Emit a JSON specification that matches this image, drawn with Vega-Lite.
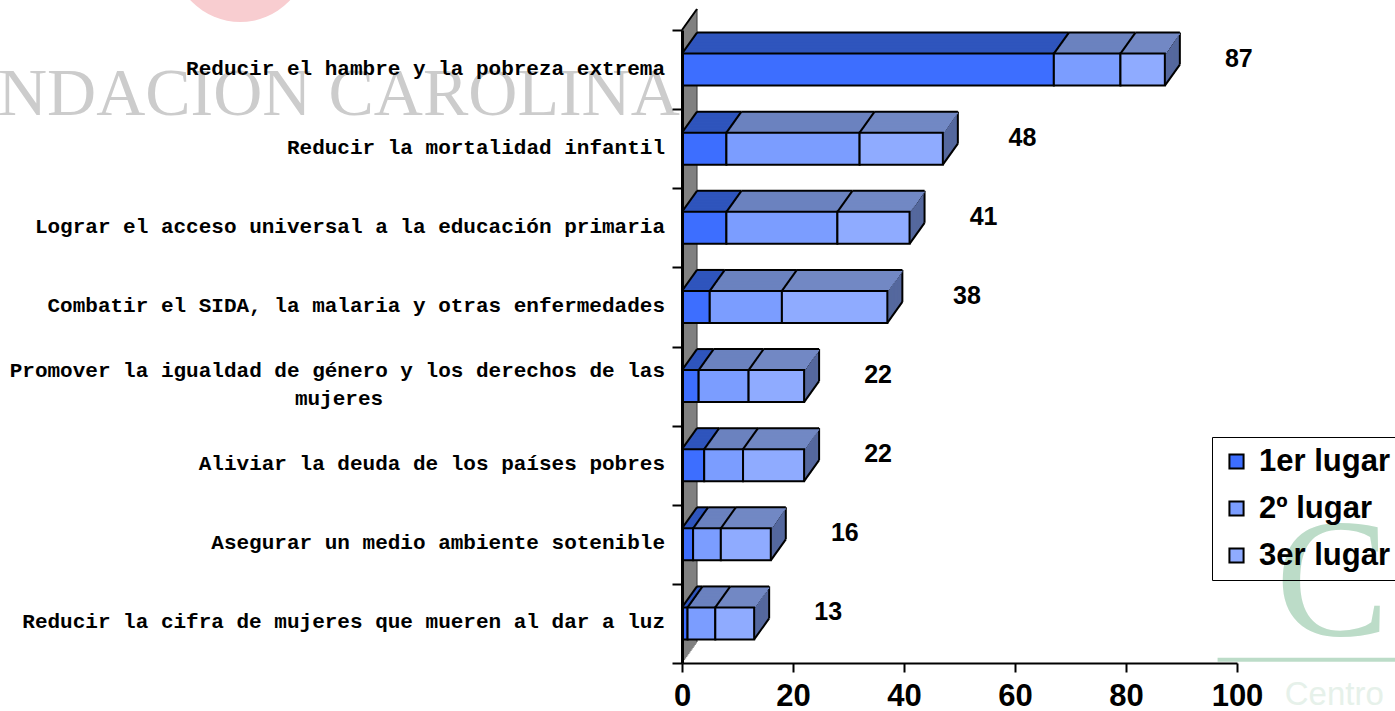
{"$schema":"https://vega.github.io/schema/vega-lite/v6.json","autosize":{"type":"none"},"padding":{"left":682,"top":30,"right":158,"bottom":48},"width":555,"height":633,"background":"white","config":{"view":{"stroke":null},"font":"Liberation Sans"},
"datasets":{
"barras":[
{"rank":1,"lugar":"1er lugar","orden":1,"valor":67},{"rank":1,"lugar":"2º lugar","orden":2,"valor":12},{"rank":1,"lugar":"3er lugar","orden":3,"valor":8},
{"rank":2,"lugar":"1er lugar","orden":1,"valor":8},{"rank":2,"lugar":"2º lugar","orden":2,"valor":24},{"rank":2,"lugar":"3er lugar","orden":3,"valor":15},
{"rank":3,"lugar":"1er lugar","orden":1,"valor":8},{"rank":3,"lugar":"2º lugar","orden":2,"valor":20},{"rank":3,"lugar":"3er lugar","orden":3,"valor":13},
{"rank":4,"lugar":"1er lugar","orden":1,"valor":5},{"rank":4,"lugar":"2º lugar","orden":2,"valor":13},{"rank":4,"lugar":"3er lugar","orden":3,"valor":19},
{"rank":5,"lugar":"1er lugar","orden":1,"valor":3},{"rank":5,"lugar":"2º lugar","orden":2,"valor":9},{"rank":5,"lugar":"3er lugar","orden":3,"valor":10},
{"rank":6,"lugar":"1er lugar","orden":1,"valor":4},{"rank":6,"lugar":"2º lugar","orden":2,"valor":7},{"rank":6,"lugar":"3er lugar","orden":3,"valor":11},
{"rank":7,"lugar":"1er lugar","orden":1,"valor":2},{"rank":7,"lugar":"2º lugar","orden":2,"valor":5},{"rank":7,"lugar":"3er lugar","orden":3,"valor":9},
{"rank":8,"lugar":"1er lugar","orden":1,"valor":1},{"rank":8,"lugar":"2º lugar","orden":2,"valor":5},{"rank":8,"lugar":"3er lugar","orden":3,"valor":7}],
"categorias":[
{"rank":1,"nombre":"Reducir el hambre y la pobreza extrema","total":87},
{"rank":2,"nombre":"Reducir la mortalidad infantil","total":48},
{"rank":3,"nombre":"Lograr el acceso universal a la educación primaria","total":41},
{"rank":4,"nombre":"Combatir el SIDA, la malaria y otras enfermedades","total":38},
{"rank":5,"nombre":"Promover la igualdad de género y los derechos de las","nombre2":"mujeres","total":22},
{"rank":6,"nombre":"Aliviar la deuda de los países pobres","total":22},
{"rank":7,"nombre":"Asegurar un medio ambiente sotenible","total":16},
{"rank":8,"nombre":"Reducir la cifra de mujeres que mueren al dar a luz","total":13}],
"una":[{"clave":1}]},
"layer":[
{"data":{"name":"una"},"layer":[
{"mark":{"type":"point","filled":true,"opacity":1,"color":"#f8cdd0","size":18496,"clip":false},"encoding":{"x":{"datum":-79.6,"scale":{"domain":[0,100],"nice":false}},"y":{"datum":-0.46,"scale":{"domain":[0.5,8.5],"reverse":true,"nice":false,"zero":false}}}},
{"mark":{"type":"text","text":"NDACION CAROLINA","align":"right","baseline":"alphabetic","font":"Liberation Serif","fontSize":68,"color":"#cccccc"},"encoding":{"x":{"datum":-0.4,"scale":{"domain":[0,100],"nice":false}},"y":{"datum":1.57,"scale":{"domain":[0.5,8.5],"reverse":true,"nice":false,"zero":false}}}},
{"mark":{"type":"text","text":"C","align":"left","baseline":"alphabetic","font":"Liberation Serif","fontSize":170,"color":"#bcdcc8"},"encoding":{"x":{"datum":107,"scale":{"domain":[0,100],"nice":false}},"y":{"datum":8.15,"scale":{"domain":[0.5,8.5],"reverse":true,"nice":false,"zero":false}}}},
{"mark":{"type":"text","text":"Centro","align":"left","baseline":"alphabetic","fontSize":33,"color":"#e6f1ea"},"encoding":{"x":{"datum":108.6,"scale":{"domain":[0,100],"nice":false}},"y":{"datum":9.03,"scale":{"domain":[0.5,8.5],"reverse":true,"nice":false,"zero":false}}}},
{"mark":{"type":"rule","color":"#bcdcc8","strokeWidth":4},"encoding":{"x":{"datum":96.5,"scale":{"domain":[0,100],"nice":false}},"x2":{"datum":130},"y":{"datum":8.46,"scale":{"domain":[0.5,8.5],"reverse":true,"nice":false,"zero":false}}}},
{"encoding":{"x":{"datum":0,"scale":{"domain":[0,100],"nice":false}},"y":{"datum":0.5,"scale":{"domain":[0.5,8.5],"reverse":true,"nice":false,"zero":false}},"y2":{"datum":8.5}},"layer":[
{"mark":{"type":"rule","color":"#808080","strokeWidth":2,"xOffset":1.07,"yOffset":-1.5,"y2Offset":-1.5}},
{"mark":{"type":"rule","color":"#808080","strokeWidth":2,"xOffset":2.14,"yOffset":-3,"y2Offset":-3}},
{"mark":{"type":"rule","color":"#808080","strokeWidth":2,"xOffset":3.21,"yOffset":-4.5,"y2Offset":-4.5}},
{"mark":{"type":"rule","color":"#808080","strokeWidth":2,"xOffset":4.29,"yOffset":-6,"y2Offset":-6}},
{"mark":{"type":"rule","color":"#808080","strokeWidth":2,"xOffset":5.36,"yOffset":-7.5,"y2Offset":-7.5}},
{"mark":{"type":"rule","color":"#808080","strokeWidth":2,"xOffset":6.43,"yOffset":-9,"y2Offset":-9}},
{"mark":{"type":"rule","color":"#808080","strokeWidth":2,"xOffset":7.5,"yOffset":-10.5,"y2Offset":-10.5}},
{"mark":{"type":"rule","color":"#808080","strokeWidth":2,"xOffset":8.57,"yOffset":-12,"y2Offset":-12}},
{"mark":{"type":"rule","color":"#808080","strokeWidth":2,"xOffset":9.64,"yOffset":-13.5,"y2Offset":-13.5}},
{"mark":{"type":"rule","color":"#808080","strokeWidth":2,"xOffset":10.71,"yOffset":-15,"y2Offset":-15}},
{"mark":{"type":"rule","color":"#808080","strokeWidth":2,"xOffset":11.79,"yOffset":-16.5,"y2Offset":-16.5}},
{"mark":{"type":"rule","color":"#808080","strokeWidth":2,"xOffset":12.86,"yOffset":-18,"y2Offset":-18}},
{"mark":{"type":"rule","color":"#808080","strokeWidth":2,"xOffset":13.93,"yOffset":-19.5,"y2Offset":-19.5}},
{"mark":{"type":"rule","color":"#333333","strokeWidth":1,"xOffset":15,"yOffset":-21,"y2Offset":-21}}
]},
{"mark":{"type":"rule","color":"black","strokeWidth":2,"x2Offset":15,"y2Offset":-21},"encoding":{"x":{"datum":0,"scale":{"domain":[0,100],"nice":false}},"x2":{"datum":0},"y":{"datum":0.5,"scale":{"domain":[0.5,8.5],"reverse":true,"nice":false,"zero":false}},"y2":{"datum":0.5}}}
]},
{"data":{"name":"barras"},"transform":[{"stack":"valor","groupby":["rank"],"sort":[{"field":"orden","order":"ascending"}],"as":["x0","x1"]}],"layer":[
{"encoding":{"x":{"field":"x1","type":"quantitative","scale":{"domain":[0,100],"nice":false}},"y":{"field":"rank","type":"quantitative","scale":{"domain":[0.5,8.5],"reverse":true,"nice":false,"zero":false}},"y2":{"field":"rank"}},"transform":[{"filter":"datum.orden==3"}],"layer":[
{"mark":{"type":"rule","color":"#55689e","strokeWidth":2,"xOffset":1.07,"yOffset":-17.5,"y2Offset":14.5}},
{"mark":{"type":"rule","color":"#55689e","strokeWidth":2,"xOffset":2.14,"yOffset":-19,"y2Offset":13}},
{"mark":{"type":"rule","color":"#55689e","strokeWidth":2,"xOffset":3.21,"yOffset":-20.5,"y2Offset":11.5}},
{"mark":{"type":"rule","color":"#55689e","strokeWidth":2,"xOffset":4.29,"yOffset":-22,"y2Offset":10}},
{"mark":{"type":"rule","color":"#55689e","strokeWidth":2,"xOffset":5.36,"yOffset":-23.5,"y2Offset":8.5}},
{"mark":{"type":"rule","color":"#55689e","strokeWidth":2,"xOffset":6.43,"yOffset":-25,"y2Offset":7}},
{"mark":{"type":"rule","color":"#55689e","strokeWidth":2,"xOffset":7.5,"yOffset":-26.5,"y2Offset":5.5}},
{"mark":{"type":"rule","color":"#55689e","strokeWidth":2,"xOffset":8.57,"yOffset":-28,"y2Offset":4}},
{"mark":{"type":"rule","color":"#55689e","strokeWidth":2,"xOffset":9.64,"yOffset":-29.5,"y2Offset":2.5}},
{"mark":{"type":"rule","color":"#55689e","strokeWidth":2,"xOffset":10.71,"yOffset":-31,"y2Offset":1}},
{"mark":{"type":"rule","color":"#55689e","strokeWidth":2,"xOffset":11.79,"yOffset":-32.5,"y2Offset":-0.5}},
{"mark":{"type":"rule","color":"#55689e","strokeWidth":2,"xOffset":12.86,"yOffset":-34,"y2Offset":-2}},
{"mark":{"type":"rule","color":"#55689e","strokeWidth":2,"xOffset":13.93,"yOffset":-35.5,"y2Offset":-3.5}},
{"mark":{"type":"rule","color":"black","strokeWidth":2,"xOffset":15,"yOffset":-37,"y2Offset":-5}},
{"mark":{"type":"rule","color":"black","strokeWidth":2,"x2Offset":15,"yOffset":16,"y2Offset":-5},"encoding":{"x2":{"field":"x1"}}},
{"mark":{"type":"rule","color":"black","strokeWidth":2,"x2Offset":15,"yOffset":-16,"y2Offset":-37},"encoding":{"x2":{"field":"x1"}}}
]},
{"encoding":{"x":{"field":"x0","type":"quantitative","scale":{"domain":[0,100],"nice":false}},"x2":{"field":"x1"},"y":{"field":"rank","type":"quantitative","scale":{"domain":[0.5,8.5],"reverse":true,"nice":false,"zero":false}},"y2":{"field":"rank"},"fill":{"field":"lugar","type":"nominal","legend":null,"scale":{"domain":["3er lugar","2º lugar","1er lugar"],"range":["#7288c4","#6b82bf","#2f55bd"]}}},"layer":[
{"mark":{"type":"rect","xOffset":1.07,"x2Offset":1.07,"yOffset":-17.5,"y2Offset":-15}},
{"mark":{"type":"rect","xOffset":2.14,"x2Offset":2.14,"yOffset":-19,"y2Offset":-16.5}},
{"mark":{"type":"rect","xOffset":3.21,"x2Offset":3.21,"yOffset":-20.5,"y2Offset":-18}},
{"mark":{"type":"rect","xOffset":4.29,"x2Offset":4.29,"yOffset":-22,"y2Offset":-19.5}},
{"mark":{"type":"rect","xOffset":5.36,"x2Offset":5.36,"yOffset":-23.5,"y2Offset":-21}},
{"mark":{"type":"rect","xOffset":6.43,"x2Offset":6.43,"yOffset":-25,"y2Offset":-22.5}},
{"mark":{"type":"rect","xOffset":7.5,"x2Offset":7.5,"yOffset":-26.5,"y2Offset":-24}},
{"mark":{"type":"rect","xOffset":8.57,"x2Offset":8.57,"yOffset":-28,"y2Offset":-25.5}},
{"mark":{"type":"rect","xOffset":9.64,"x2Offset":9.64,"yOffset":-29.5,"y2Offset":-27}},
{"mark":{"type":"rect","xOffset":10.71,"x2Offset":10.71,"yOffset":-31,"y2Offset":-28.5}},
{"mark":{"type":"rect","xOffset":11.79,"x2Offset":11.79,"yOffset":-32.5,"y2Offset":-30}},
{"mark":{"type":"rect","xOffset":12.86,"x2Offset":12.86,"yOffset":-34,"y2Offset":-31.5}},
{"mark":{"type":"rect","xOffset":13.93,"x2Offset":13.93,"yOffset":-35.5,"y2Offset":-33}},
{"mark":{"type":"rect","xOffset":15,"x2Offset":15,"yOffset":-37,"y2Offset":-34.5}}
]},
{"mark":{"type":"rule","color":"black","strokeWidth":2,"xOffset":15,"x2Offset":15,"yOffset":-37},"encoding":{"x":{"field":"x0","type":"quantitative","scale":{"domain":[0,100],"nice":false}},"x2":{"field":"x1"},"y":{"field":"rank","type":"quantitative","scale":{"domain":[0.5,8.5],"reverse":true,"nice":false,"zero":false}}}},
{"mark":{"type":"rule","color":"black","strokeWidth":2,"x2Offset":15,"yOffset":-16,"y2Offset":-37},"encoding":{"x":{"field":"x0","type":"quantitative","scale":{"domain":[0,100],"nice":false}},"x2":{"field":"x0"},"y":{"field":"rank","type":"quantitative","scale":{"domain":[0.5,8.5],"reverse":true,"nice":false,"zero":false}},"y2":{"field":"rank"}}},
{"mark":{"type":"rect","stroke":"black","strokeWidth":2,"yOffset":-16,"y2Offset":16},"encoding":{"x":{"field":"x0","type":"quantitative","scale":{"domain":[0,100],"nice":false},"axis":{"values":[0,20,40,60,80,100],"title":null,"grid":false,"tickSize":9,"tickColor":"black","tickWidth":2,"domainColor":"black","domainWidth":2,"labelFontSize":31,"labelFontWeight":"bold","labelColor":"black","labelPadding":9,"zindex":1,"labelFlush":false}},"x2":{"field":"x1"},"y":{"field":"rank","type":"quantitative","scale":{"domain":[0.5,8.5],"reverse":true,"nice":false,"zero":false},"axis":{"values":[0.5,1.5,2.5,3.5,4.5,5.5,6.5,7.5,8.5],"title":null,"grid":false,"labels":false,"tickSize":10,"tickColor":"black","tickWidth":2,"domainColor":"black","domainWidth":3,"zindex":1}},"y2":{"field":"rank"},"color":{"field":"lugar","type":"nominal","title":null,"scale":{"domain":["1er lugar","2º lugar","3er lugar"],"range":["#3d6eff","#7b9dff","#8fabff"]},"legend":{"orient":"none","legendX":530,"legendY":407,"title":null,"symbolType":"square","symbolSize":200,"symbolStrokeColor":"black","symbolStrokeWidth":2,"labelFontSize":31,"labelFontWeight":"bold","labelColor":"black","labelOffset":7,"rowPadding":15,"padding":9,"strokeColor":"black","labelLimit":300,"encoding":{"legend":{"update":{"strokeWidth":{"value":2}}}}}}}}
]},
{"data":{"name":"categorias"},"encoding":{"y":{"field":"rank","type":"quantitative","scale":{"domain":[0.5,8.5],"reverse":true,"nice":false,"zero":false}}},"layer":[
{"transform":[{"filter":"datum.rank!=5"}],"mark":{"type":"text","align":"right","baseline":"middle","dx":-17,"dy":-1,"font":"Liberation Mono","fontWeight":"bold","fontSize":21,"color":"black"},"encoding":{"x":{"datum":0,"scale":{"domain":[0,100],"nice":false}},"text":{"field":"nombre"}}},
{"transform":[{"filter":"datum.rank==5"}],"mark":{"type":"text","align":"right","baseline":"middle","dx":-17,"dy":-15,"font":"Liberation Mono","fontWeight":"bold","fontSize":21,"color":"black"},"encoding":{"x":{"datum":0,"scale":{"domain":[0,100],"nice":false}},"text":{"field":"nombre"}}},
{"transform":[{"filter":"datum.rank==5"}],"mark":{"type":"text","align":"center","baseline":"middle","dx":-343,"dy":13,"font":"Liberation Mono","fontWeight":"bold","fontSize":21,"color":"black"},"encoding":{"x":{"datum":0,"scale":{"domain":[0,100],"nice":false}},"text":{"field":"nombre2"}}},
{"mark":{"type":"text","align":"center","baseline":"middle","dx":74,"dy":-11,"fontWeight":"bold","fontSize":25,"color":"black"},"encoding":{"x":{"field":"total","type":"quantitative","scale":{"domain":[0,100],"nice":false}},"text":{"field":"total","type":"nominal"}}}
]}
]}
